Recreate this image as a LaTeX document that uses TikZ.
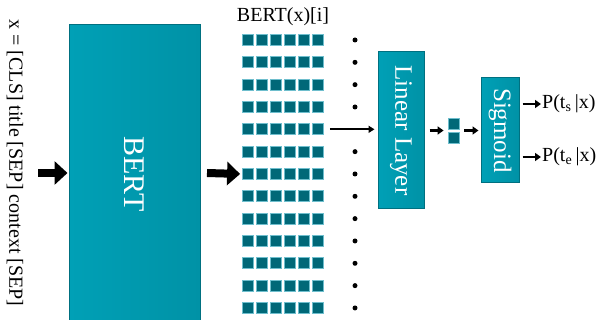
\documentclass[tikz,border=0pt]{standalone}
\usepackage{fontspec}
\setmainfont{Liberation Serif}
\usetikzlibrary{arrows.meta,positioning}
\definecolor{boxlight}{RGB}{0,160,182}
\definecolor{boxdark}{RGB}{0,146,166}
\definecolor{boxedge}{RGB}{0,112,128}
\definecolor{cellfill}{RGB}{0,104,120}
\definecolor{celledge}{RGB}{110,190,205}
\tikzset{
	layer/.style={draw=boxedge, line width=1pt, left color=boxlight, right color=boxdark,
		text=white, inner sep=0pt, rotate=-90},
	cell/.style={draw=celledge, line width=0.8pt, fill=cellfill, inner sep=0pt,
		minimum width=11pt, minimum height=11pt},
	bigarrow/.style={line width=8pt, -{Triangle[length=13pt, width=23pt]}},
	smallarrow/.style={line width=2.6pt, -{Triangle[length=6pt, width=8pt]}},
	thinarrow/.style={line width=2pt, -{Triangle[length=6pt, width=7pt]}},
}

\begin{document}
\begin{tikzpicture}[x=1pt, y=-1pt]
			%%%%% START %%%%%
			\useasboundingbox (0, 0) rectangle (603, 320);
			
			\node[rotate=-90, font=\fontsize{20}{24}\selectfont] (input) at (15, 163) {x = [CLS] title [SEP] context [SEP]};
			
			\node[layer, minimum width=298pt, minimum height=131pt, font=\fontsize{30}{36}\selectfont] (bert) at (134.5, 174) {BERT};
			
			\coordinate (inarrow) at (38, 173);
			\draw[bigarrow] (inarrow) -- ([xshift=-1pt]bert.south |- inarrow);
			
			\node[font=\fontsize{20}{24}\selectfont] (outlabel) at (283, 17) {BERT(x)[i]};
			
			\foreach \r in {1,...,13} {
				\foreach \c in {1,...,6}
					\node[cell] (sq-\r-\c) at ({248+(\c-1)*14}, {40+(\r-1)*22.33}) {};
			}
			\foreach \r in {1,2,3,4,6,7,8,9,10,11,12,13}
				\fill (355, {40+(\r-1)*22.33}) circle (2.5) coordinate (dot-\r);
			
			\coordinate (midarrow) at (207, 173);
			\draw[bigarrow] (midarrow) -- ([xshift=-2pt]sq-7-1.west);
			
			\node[layer, minimum width=157pt, minimum height=46pt, font=\fontsize{25}{30}\selectfont] (linear) at (401, 130.5) {Linear Layer};
			\draw[thinarrow] ([xshift=6pt]sq-5-6.east) -- ([xshift=-3pt]linear.south |- sq-5-6.east);
			
			\node[cell] (logit-1) at (453.5, 123.5) {};
			\node[cell] (logit-2) at (453.5, 137.5) {};
			\coordinate (logits) at (453.5, 130.5);
			
			\node[layer, minimum width=105pt, minimum height=38pt, font=\fontsize{25}{30}\selectfont] (sigmoid) at (500, 130.5) {Sigmoid};
			
			\draw[smallarrow] ([xshift=5pt]linear.north) -- ([xshift=-4pt]logit-1.west |- logits);
			\draw[smallarrow] ([xshift=5pt]logit-1.east |- logits) -- ([xshift=-2pt]sigmoid.south);
			
			\node[anchor=west, font=\fontsize{20}{24}\selectfont, inner sep=1pt] (pstart) at (541, 104) {P(t\textsubscript{s}\,|x)};
			\node[anchor=west, font=\fontsize{20}{24}\selectfont, inner sep=1pt] (pend) at (541, 157) {P(t\textsubscript{e}\,|x)};
			\coordinate (sa) at ([xshift=3pt]sigmoid.north |- pstart);
			\coordinate (ea) at ([xshift=3pt]sigmoid.north |- pend);
			\draw[smallarrow] (sa) -- (pstart.west);
			\draw[smallarrow] (ea) -- (pend.west);
			%%%%% END %%%%%
\end{tikzpicture}
\end{document}
